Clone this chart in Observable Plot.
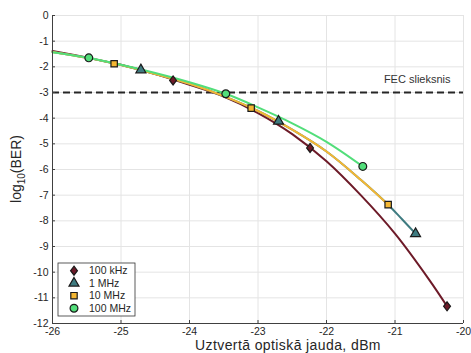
<!DOCTYPE html>
<html>
<head>
<meta charset="utf-8">
<script src="https://cdn.jsdelivr.net/npm/d3@7"></script>
<script src="https://cdn.jsdelivr.net/npm/@observablehq/plot@0.6"></script>
<style>
  body { margin: 0; background: #fff; }
  #chart { width: 471px; height: 353px; }
</style>
</head>
<body>
<div id="chart"></div>
<script>
// Modulation frequencies (legend order)
const freqNames = ["100 kHz", "1 MHz", "10 MHz", "100 MHz"];
const freqColors = ["#6d1a28", "#3e7b80", "#f4b733", "#52de7a"];

// Measured points: received optical power (dBm) and log10(BER)
const khz100X = [-24.24, -22.24, -20.24];
const khz100Y = [-2.53, -5.16, -11.33];
const mhz1X = [-24.71, -22.70, -20.70];
const mhz1Y = [-2.12, -4.12, -8.50];
const mhz10X = [-25.10, -23.10, -21.10];
const mhz10Y = [-1.88, -3.61, -7.37];
const mhz100X = [-25.47, -23.47, -21.47];
const mhz100Y = [-1.65, -3.05, -5.88];

// Fitted curves, sampled along the power axis
const fitKhz100X = [-26, -25.5, -25, -24.5, -24, -23.5, -23, -22.5, -22, -21.5, -21, -20.5, -20.24];
const fitKhz100Y = [-1.38, -1.64, -1.92, -2.28, -2.70, -3.16, -3.80, -4.62, -5.68, -7.00, -8.50, -10.30, -11.33];
const fitMhz1X = [-26, -25.5, -25, -24.5, -24, -23.5, -23, -22.5, -22, -21.5, -21.1, -20.9, -20.7];
const fitMhz1Y = [-1.42, -1.65, -1.93, -2.28, -2.66, -3.14, -3.72, -4.45, -5.30, -6.40, -7.37, -7.93, -8.50];
const fitMhz10X = [-26, -25.5, -25, -24.5, -24, -23.5, -23, -22.5, -22, -21.5, -21.1];
const fitMhz10Y = [-1.42, -1.65, -1.93, -2.28, -2.66, -3.14, -3.72, -4.45, -5.30, -6.40, -7.37];
const fitMhz100X = [-26, -25.5, -25, -24.5, -24, -23.47, -23, -22.5, -22, -21.47];
const fitMhz100Y = [-1.43, -1.64, -1.92, -2.24, -2.60, -3.05, -3.58, -4.20, -4.92, -5.88];

// FEC threshold
const fecLevel = -3;
const fecLabel = "FEC slieksnis";

// Axis ticks
const xTicks = [-26, -25, -24, -23, -22, -21, -20];
const yTicks = [0, -1, -2, -3, -4, -5, -6, -7, -8, -9, -10, -11, -12];

const xLabel = "Uztvertā optiskā jauda, dBm";

// Taller-than-wide diamond marker
const tallDiamond = {
  draw(ctx, size) {
    const s = Math.sqrt(size);
    const w = s * 0.44, h = s * 0.58;
    ctx.moveTo(0, -h); ctx.lineTo(w, 0); ctx.lineTo(0, h); ctx.lineTo(-w, 0); ctx.closePath();
  }
};
const symbols = [tallDiamond, d3.symbolTriangle, d3.symbolSquare, d3.symbolCircle];
const radii = [4.4, 3.7, 3.6, 3.9];

const pointSets = [[khz100X, khz100Y], [mhz1X, mhz1Y], [mhz10X, mhz10Y], [mhz100X, mhz100Y]];
const fitSets = [[fitKhz100X, fitKhz100Y], [fitMhz1X, fitMhz1Y], [fitMhz10X, fitMhz10Y], [fitMhz100X, fitMhz100Y]];

const toRows = ([xs, ys]) => xs.map((x, i) => ({x, y: ys[i]}));

const W = 471, H = 353;
const mL = 52, mR = 8, mT = 15, mB = 30;
const innerW = W - mL - mR, innerH = H - mT - mB;
const axisColor = "#404040";

const marks = [
  Plot.gridX(xTicks, {stroke: "#e4e4e4", strokeOpacity: 1}),
  Plot.gridY(yTicks, {stroke: "#e4e4e4", strokeOpacity: 1}),
  Plot.ruleY([fecLevel], {stroke: "#262626", strokeWidth: 2, strokeDasharray: "7,4"}),
  Plot.text([fecLevel], {y: d => d, text: () => fecLabel, frameAnchor: "right", textAnchor: "end",
    dx: -13, dy: -13, fontSize: 11, fill: "#333"})
];
fitSets.forEach((f, i) => {
  marks.push(Plot.line(toRows(f), {x: "x", y: "y", stroke: freqColors[i], strokeWidth: 2, curve: "catmull-rom"}));
});
pointSets.forEach((p, i) => {
  marks.push(Plot.dot(toRows(p), {x: "x", y: "y", symbol: () => symbols[i], r: radii[i],
    fill: freqColors[i], stroke: "#1a1a1a", strokeWidth: 1.2}));
});
marks.push(
  Plot.ruleX([xTicks[0]], {stroke: axisColor}),
  Plot.ruleY([yTicks[yTicks.length - 1]], {stroke: axisColor}),
  Plot.tickX(xTicks, {x: d => d, insetTop: innerH - 3, stroke: axisColor}),
  Plot.tickY(yTicks, {y: d => d, insetRight: innerW - 3, stroke: axisColor}),
  Plot.axisX({ticks: xTicks, tickSize: 0, tickPadding: 4, label: null, tickFormat: d => d}),
  Plot.axisY({ticks: yTicks, tickSize: 0, tickPadding: 4, label: null, tickFormat: d => d})
);

const chart = Plot.plot({
  width: W, height: H,
  marginLeft: mL, marginRight: mR, marginTop: mT, marginBottom: mB,
  x: {domain: [-26, -20]},
  y: {domain: [-12, 0]},
  style: {fontFamily: "'Liberation Sans', Arial, sans-serif", fontSize: "10.5px", color: "#262626", background: "#fff"},
  marks
});
document.getElementById("chart").appendChild(chart);

const svg = d3.select(chart);

// x-axis title
svg.append("text")
  .attr("x", 288).attr("y", 349.8)
  .attr("text-anchor", "middle")
  .attr("font-size", 14).attr("letter-spacing", 0.4).attr("fill", "#262626")
  .text(xLabel);

// y-axis title with subscript
const yl = svg.append("text")
  .attr("transform", `translate(21,${mT + innerH / 2}) rotate(-90)`)
  .attr("text-anchor", "middle")
  .attr("font-size", 14).attr("fill", "#262626");
yl.append("tspan").text("log");
yl.append("tspan").attr("font-size", 10).attr("dy", 4).text("10");
yl.append("tspan").attr("dy", -4).text("(BER)");

// Legend
const lg = svg.append("g").attr("transform", "translate(58,263)");
lg.append("rect").attr("width", 77).attr("height", 53).attr("fill", "#fff").attr("stroke", "#333").attr("stroke-width", 0.8);
freqNames.forEach((name, i) => {
  const cy = 7.7 + i * 12.5;
  lg.append("path")
    .attr("transform", `translate(16,${cy})`)
    .attr("d", d3.symbol(symbols[i], radii[i] * radii[i] * Math.PI)())
    .attr("fill", freqColors[i]).attr("stroke", "#1a1a1a").attr("stroke-width", 1.2);
  lg.append("text").attr("x", 31).attr("y", cy).attr("dy", "0.35em")
    .attr("text-anchor", "start")
    .attr("font-size", 10.5).attr("fill", "#262626").text(name);
});
</script>
</body>
</html>
